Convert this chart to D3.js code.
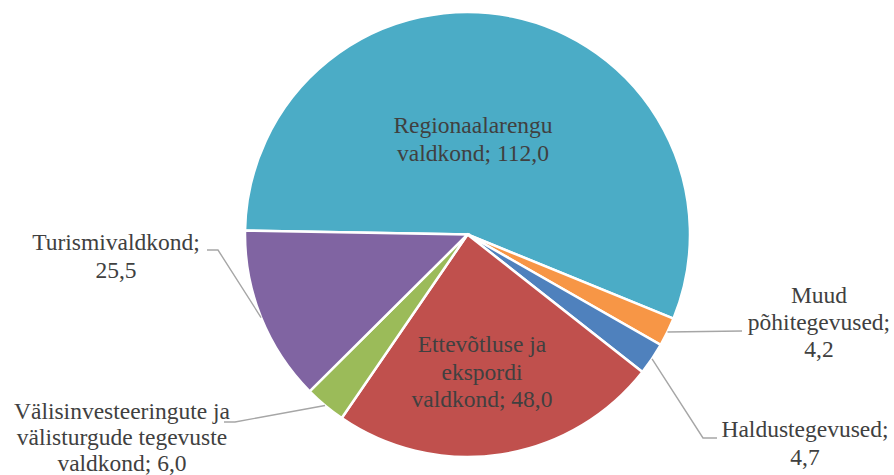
<!DOCTYPE html>
<html>
<head>
<meta charset="utf-8">
<script src="https://cdn.jsdelivr.net/npm/d3@7"></script>
<style>
  body { margin: 0; background: #fff; }
  svg { display: block; }
</style>
</head>
<body>
<div id="chart"></div>
<script>
// values in chart order (clockwise from the left edge)
const categories = ["Regionaalarengu valdkond", "Muud põhitegevused", "Haldustegevused",
  "Ettevõtluse ja ekspordi valdkond", "Välisinvesteeringute ja välisturgude tegevuste valdkond",
  "Turismivaldkond"];
const values = [112.0, 4.2, 4.7, 48.0, 6.0, 25.5];
const colors = ["#4BACC6", "#F79646", "#4F81BD", "#C0504D", "#9BBB59", "#8064A2"];
// label text, split the way the chart breaks the lines
const labelLines = [
  ["Regionaalarengu", "valdkond; 112,0"],
  ["Muud", "põhitegevused;", "4,2"],
  ["Haldustegevused;", "4,7"],
  ["Ettevõtluse ja", "ekspordi", "valdkond; 48,0"],
  ["Välisinvesteeringute ja", "välisturgude tegevuste", "valdkond; 6,0"],
  ["Turismivaldkond;", "25,5"]
];

// manual label placement (like the original), x = centre, y = first baseline
const labelPos = [
  { x: 473, y: 133, lh: 28 },
  { x: 819, y: 303, lh: 27, lead: [742, 331] },
  { x: 805, y: 437, lh: 28, lead: [717, 438, 703, 438] },
  { x: 482, y: 352, lh: 27.5 },
  { x: 122, y: 419, lh: 26, lead: [224, 422, 235, 422] },
  { x: 116, y: 250, lh: 28, lead: [207, 250, 218, 250] }
];

const width = 894, height = 475;
const cx = 467.5, cy = 234.5, r = 222.5;
const startDeg = 271;

const svg = d3.select("#chart").append("svg")
  .attr("width", width)
  .attr("height", height);

const pie = d3.pie()
  .sort(null)
  .value(d => d)
  .startAngle(startDeg * Math.PI / 180)
  .endAngle((startDeg + 360) * Math.PI / 180);

const arcs = pie(values);

const arc = d3.arc().innerRadius(0).outerRadius(r);
const edge = d3.arc().innerRadius(r).outerRadius(r);

const g = svg.append("g").attr("transform", `translate(${cx},${cy})`);

g.selectAll("path.slice")
  .data(arcs)
  .join("path")
  .attr("class", "slice")
  .attr("d", arc)
  .attr("fill", (d, i) => colors[i])
  .attr("stroke", "#fff")
  .attr("stroke-width", 2.5)
  .attr("stroke-linejoin", "miter");

// leader lines
arcs.forEach((d, i) => {
  const p = labelPos[i];
  if (!p.lead) return;
  const c = edge.centroid(d);
  const pts = [];
  for (let k = 0; k < p.lead.length; k += 2) pts.push([p.lead[k], p.lead[k + 1]]);
  pts.push([cx + c[0], cy + c[1]]);
  svg.append("path")
    .attr("d", d3.line()(pts))
    .attr("fill", "none")
    .attr("stroke", "#A6A6A6")
    .attr("stroke-width", 1.4);
});

// labels
labelLines.forEach((lines, i) => {
  const p = labelPos[i];
  const t = svg.append("text")
    .attr("text-anchor", "middle")
    .attr("font-family", "Liberation Serif")
    .attr("font-size", 23.5)
    .attr("fill", "#404040");
  lines.forEach((s, j) => {
    t.append("tspan").attr("x", p.x).attr("y", p.y + j * p.lh).text(s);
  });
});
</script>
</body>
</html>
